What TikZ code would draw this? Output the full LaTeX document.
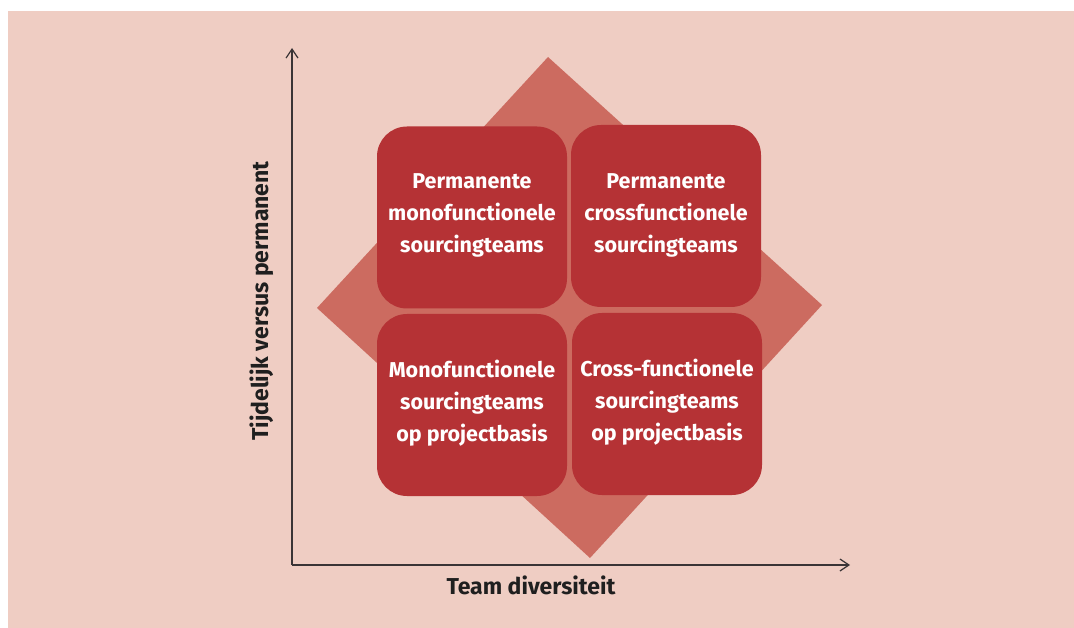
\documentclass[tikz,border=0pt]{standalone}
\usepackage{fontspec}
\setmainfont{Fira Sans}
\usetikzlibrary{arrows.meta}

\definecolor{bgpink}{HTML}{EFCDC3}
\definecolor{diamondred}{HTML}{CC6B60}
\definecolor{boxred}{HTML}{B53235}
\definecolor{axisgray}{HTML}{3A3436}

\tikzset{
  quadbox/.style={fill=boxred, rounded corners=30pt, minimum width=190pt,
    minimum height=182pt, inner sep=0pt},
  quadtext/.style={text=white, align=center, inner sep=0pt,
    font=\fontsize{21.5}{32}\selectfont\bfseries},
  axisline/.style={axisgray, line width=1.2pt,
    -{Straight Barb[length=9pt, width=12pt, line width=1.2pt]}},
  axislabel/.style={text=black!88, font=\fontsize{23}{26}\selectfont\bfseries}
}

\begin{document}
\begin{tikzpicture}[x=1pt, y=-1pt]
  \useasboundingbox (0,0) rectangle (1074,628);
  \fill[bgpink] (8,11) rectangle (1074,628);

  % Diamond behind
  \fill[diamondred] (548,57) -- (822,305) -- (590,558) -- (317,308) -- cycle;

  % Quadrants
  \node[quadbox] (tl) at (472,217.5) {};
  \node[quadbox] (tr) at (666,216) {};
  \node[quadbox] (bl) at (472,405) {};
  \node[quadbox] (br) at (667,404) {};

  \node[quadtext] (tltext) at ([yshift=2pt]tl.center) {Permanente\\monofunctionele\\sourcingteams};
  \node[quadtext] (trtext) at ([yshift=1pt]tr.center) {Permanente\\crossfunctionele\\sourcingteams};
  \node[quadtext] (bltext) at ([yshift=1.5pt]bl.center) {Monofunctionele\\sourcingteams\\op projectbasis};
  \node[quadtext] (brtext) at ([yshift=1.5pt]br.center) {Cross-functionele\\sourcingteams\\op projectbasis};

  % Axes
  \coordinate (origin) at (292,565);
  \coordinate (ytop) at (292,48);
  \coordinate (xend) at (850,565);
  \draw[axisline] (origin) -- (ytop);
  \draw[axisline] (origin) -- (xend);

  % Axis names
  \node[axislabel] (xname) at (531,585) {Team diversiteit};
  \node[axislabel, rotate=90] (yname) at (262,301) {Tijdelijk versus permanent};
\end{tikzpicture}
\end{document}
